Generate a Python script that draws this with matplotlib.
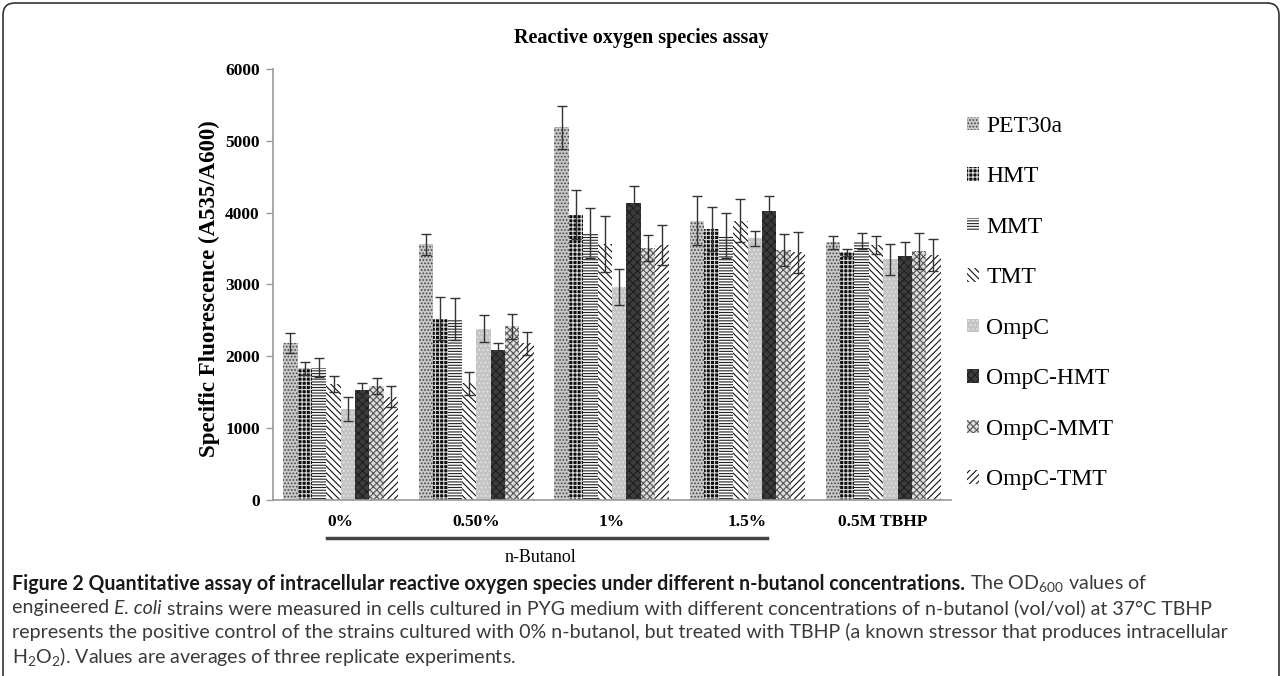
import matplotlib
matplotlib.use('Agg')
import matplotlib.pyplot as plt
import numpy as np
from matplotlib import font_manager
from matplotlib.patches import Patch, FancyBboxPatch
from matplotlib.lines import Line2D
from matplotlib.transforms import IdentityTransform


def first_font(names):
    for n in names:
        try:
            font_manager.findfont(font_manager.FontProperties(family=n), fallback_to_default=False)
            return n
        except ValueError:
            pass
    return 'DejaVu Sans'


SERIF = first_font(['Liberation Serif', 'DejaVu Serif'])
CAPFONT = first_font(['Lato', 'Liberation Sans Narrow', 'Liberation Sans'])

plt.rcParams['font.family'] = [SERIF, 'DejaVu Sans']
plt.rcParams['mathtext.fontset'] = 'custom'
plt.rcParams['mathtext.rm'] = CAPFONT
plt.rcParams['mathtext.it'] = CAPFONT + ':italic'
plt.rcParams['hatch.linewidth'] = 0.8

# data
groups = ['0%', '0.50%', '1%', '1.5%', '0.5M TBHP']
strains = ['PET30a', 'HMT', 'MMT', 'TMT', 'OmpC', 'OmpC-HMT', 'OmpC-MMT', 'OmpC-TMT']

pet30a = [2190, 3560, 5190, 3890, 3585]
pet30a_err = [140, 145, 300, 340, 95]
hmt = [1835, 2525, 3970, 3770, 3445]
hmt_err = [90, 300, 340, 305, 50]
mmt = [1840, 2515, 3715, 3680, 3605]
mmt_err = [135, 290, 345, 310, 110]
tmt = [1615, 1625, 3565, 3885, 3550]
tmt_err = [110, 160, 385, 300, 130]
ompc = [1270, 2385, 2970, 3645, 3350]
ompc_err = [170, 190, 250, 105, 220]
ompc_hmt = [1525, 2090, 4130, 4025, 3400]
ompc_hmt_err = [100, 100, 240, 210, 195]
ompc_mmt = [1590, 2415, 3505, 3480, 3460]
ompc_mmt_err = [110, 180, 185, 220, 250]
ompc_tmt = [1440, 2180, 3550, 3445, 3410]
ompc_tmt_err = [150, 155, 280, 290, 220]

means = [pet30a, hmt, mmt, tmt, ompc, ompc_hmt, ompc_mmt, ompc_tmt]
errs = [pet30a_err, hmt_err, mmt_err, tmt_err, ompc_err, ompc_hmt_err, ompc_mmt_err, ompc_tmt_err]

# (facecolor, hatch colour, hatch)
styles = [
    ('#c8c8c8', '#444444', '.....'),
    ('#0d0d0d', '#d8d8d8', '++++'),
    ('white', '#222222', '------'),
    ('white', '#111111', '\\\\\\\\\\'),
    ('#c4c4c4', '#e2e2e2', '....'),
    ('#3c3c3c', '#1e1e1e', 'xxxx'),
    ('#dddddd', '#555555', 'xxxxx'),
    ('white', '#111111', '/////'),
]

fig = plt.figure(figsize=(12.82, 6.76), dpi=100)
ax = fig.add_axes([0.2129, 0.2604, 0.5289, 0.6376])

x = np.arange(len(groups))
w = 0.106
for j, name in enumerate(strains):
    fc, hc, hatch = styles[j]
    xs = x + (j - 3.5) * w
    ax.bar(xs, means[j], w, facecolor=fc, edgecolor=hc, hatch=hatch, linewidth=0)
    ax.errorbar(xs, means[j], yerr=errs[j], fmt='none', ecolor='#333333',
                elinewidth=1, capsize=3.5, capthick=1)

ax.set_xlim(-0.5, 4.5)
ax.set_ylim(0, 6000)
ax.set_yticks(np.arange(0, 6001, 1000))
ax.set_xticks(x)
ax.set_xticklabels(groups, fontsize=12.5, fontweight='bold')
for lab in ax.get_yticklabels():
    lab.set_fontsize(12.5)
    lab.set_fontweight('bold')
ax.tick_params(axis='x', length=0, pad=10)
ax.tick_params(axis='y', length=5, width=1, color='#999999', pad=4.5)
for s in ['top', 'right']:
    ax.spines[s].set_visible(False)
for s in ['left', 'bottom']:
    ax.spines[s].set_color('#999999')
    ax.spines[s].set_linewidth(1.2)

fig.text(0.5, 1 - 38 / 676, 'Reactive oxygen species assay', ha='center', va='center',
         fontsize=14.5, fontweight='bold')
fig.text(209 / 1282, 1 - 289 / 676, 'Specific Fluorescence (A535/A600)', rotation=90,
         ha='center', va='center', fontsize=16.5, fontweight='bold')

handles = [Patch(facecolor=s[0], edgecolor=s[1], hatch=s[2], linewidth=0) for s in styles]
fig.legend(handles, strains, loc='upper left', bbox_to_anchor=(0.738, 0.860),
           frameon=False, fontsize=17, handlelength=0.5, handleheight=0.5,
           handletextpad=0.3, labelspacing=1.25)

# n-Butanol bracket under first four groups
fig.add_artist(Line2D([327 / 1282, 767 / 1282], [1 - 538 / 676] * 2,
                      color='#444444', linewidth=2.5, transform=fig.transFigure))
fig.text(540 / 1282, 1 - 557 / 676, 'n-Butanol', ha='center', va='center', fontsize=13)

# caption
renderer = fig.canvas.get_renderer()

line1 = [('Figure 2 Quantitative assay of intracellular reactive oxygen species under '
          'different n-butanol concentrations.', 'bold', 'normal'),
         (' The OD$_{600}$ values of', 'normal', 'normal')]
line2 = [('engineered ', 'normal', 'normal'), ('E. coli', 'normal', 'italic'),
         (' strains were measured in cells cultured in PYG medium with different '
          'concentrations of n-butanol (vol/vol) at 37°C TBHP', 'normal', 'normal')]
line3 = [('represents the positive control of the strains cultured with 0% n-butanol, but '
          'treated with TBHP (a known stressor that produces intracellular', 'normal', 'normal')]
line4 = [('H$_2$O$_2$). Values are averages of three replicate experiments.', 'normal', 'normal')]


def caption_line(parts, y, size):
    xpos = 12 / 1282
    made = []
    for txt, weight, style in parts:
        t = fig.text(xpos, 1 - y / 676, txt, ha='left', va='center', fontsize=size,
                     fontweight=weight, style=style,
                     color='#1a1a1a' if weight == 'bold' else '#3a3a3a',
                     family=[CAPFONT, 'DejaVu Sans'])
        made.append(t)
        xpos += t.get_window_extent(renderer).width / fig.bbox.width
    return made, xpos * fig.bbox.width - 12


# fit caption lines to the widths they have in the reference
cap_size = 20
for parts, target in [(line1, 1201), (line2, 1200), (line3, 1218)]:
    probe, probe_w = caption_line(parts, 584, 10)
    for t in probe:
        t.remove()
    cap_size = min(cap_size, 10 * target / probe_w)

caption_line(line1, 584, cap_size)
caption_line(line2, 608, cap_size)
caption_line(line3, 632, cap_size)
caption_line(line4, 656, cap_size)

# rounded frame around the figure
fig.add_artist(FancyBboxPatch((3, -20), 1276, 693, boxstyle='round,pad=0,rounding_size=12',
                              facecolor='none', edgecolor='#333333', linewidth=1.2,
                              transform=IdentityTransform()))

fig.savefig('out.png', dpi=100)
